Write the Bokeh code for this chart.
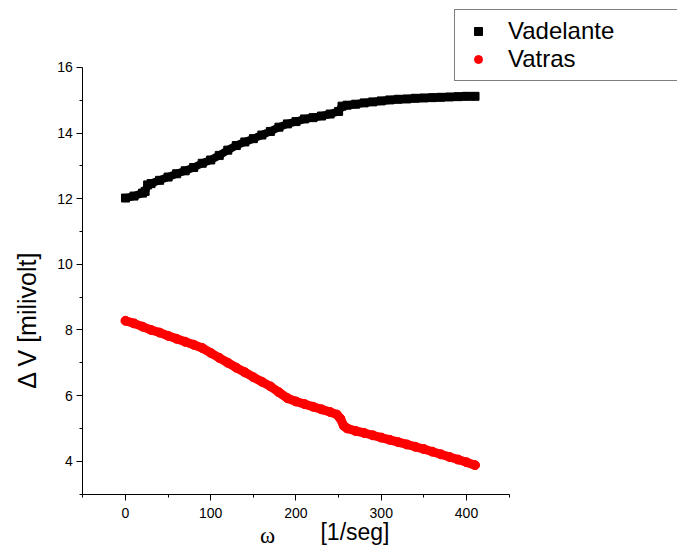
import math
from bokeh.plotting import figure
from bokeh.models import FixedTicker, Legend, LegendItem, Label, LinearAxis
from bokeh.embed import file_html
from bokeh.resources import INLINE

# ---- data ----
adelante_x = [0, 10, 20, 23, 26, 30, 40, 50, 60, 70, 80, 90, 100, 110, 120, 130, 140,
              150, 160, 170, 180, 190, 200, 210, 220, 230, 240, 250, 254, 260, 270,
              280, 290, 300, 310, 320, 330, 340, 350, 360, 370, 380, 390, 400, 410]
adelante_y = [12.02, 12.08, 12.17, 12.22, 12.42, 12.46, 12.56, 12.66, 12.76, 12.85,
              12.95, 13.08, 13.18, 13.32, 13.48, 13.62, 13.73, 13.83, 13.94, 14.05,
              14.18, 14.28, 14.35, 14.43, 14.47, 14.52, 14.58, 14.66, 14.82, 14.85,
              14.88, 14.92, 14.95, 14.98, 15.01, 15.03, 15.04, 15.06, 15.07, 15.08,
              15.09, 15.10, 15.11, 15.12, 15.12]

atras_x = [0, 10, 20, 30, 40, 50, 60, 70, 80, 90, 100, 110, 120, 130, 140, 150, 160,
           170, 180, 190, 200, 210, 220, 230, 240, 248, 252, 256, 260, 270, 280, 290,
           300, 310, 320, 330, 340, 350, 360, 370, 380, 390, 400, 410]
atras_y = [8.28, 8.20, 8.10, 8.00, 7.92, 7.82, 7.73, 7.64, 7.55, 7.45, 7.30, 7.15,
           7.00, 6.85, 6.71, 6.56, 6.42, 6.28, 6.10, 5.92, 5.82, 5.74, 5.66, 5.58,
           5.50, 5.42, 5.30, 5.08, 5.00, 4.92, 4.86, 4.79, 4.72, 4.65, 4.58, 4.51,
           4.44, 4.37, 4.29, 4.21, 4.13, 4.05, 3.97, 3.88]

x_major = [0, 100, 200, 300, 400]
x_minor = [-50, 50, 150, 250, 350, 450]
y_major = [4, 6, 8, 10, 12, 14, 16]
y_minor = [3, 5, 7, 9, 11, 13, 15]

FONT = "Liberation Sans"

p = figure(width=677, height=555, output_backend="svg", toolbar_location=None,
           x_range=(-146.6, 647.5), y_range=(1.126, 18.04),
           x_axis_location=None, y_axis_location=None, min_border=0)
p.outline_line_color = None
p.background_fill_color = "white"
p.border_fill_color = "white"
for g in p.grid:
    g.visible = False
p.xgrid.visible = False
p.ygrid.visible = False

xax = LinearAxis(fixed_location=3)
yax = LinearAxis(fixed_location=-50)
for ax, maj, mnr, bnds in ((xax, x_major, x_minor, (-50, 450)),
                           (yax, y_major, y_minor, (3, 16))):
    ax.ticker = FixedTicker(ticks=maj, minor_ticks=mnr)
    ax.bounds = bnds
    ax.axis_line_color = "black"
    ax.major_tick_line_color = "black"
    ax.minor_tick_line_color = "black"
    ax.major_tick_in = 0
    ax.major_tick_out = 6
    ax.minor_tick_in = 0
    ax.minor_tick_out = 3
    ax.major_label_text_font = FONT
    ax.major_label_text_font_size = "14px"
    ax.major_label_text_color = "black"
xax.major_label_standoff = 8
yax.major_label_standoff = 4
p.add_layout(xax, "below")
p.add_layout(yax, "left")

# data
p.line(adelante_x, adelante_y, line_color="black", line_width=8)
r1 = p.scatter(adelante_x, adelante_y, marker="square", size=8,
               fill_color="black", line_color="black")
p.line(atras_x, atras_y, line_color="red", line_width=9, line_cap="round")
r2 = p.scatter(atras_x, atras_y, marker="circle", size=9,
               fill_color="red", line_color="red")

legend = Legend(items=[LegendItem(label="Vadelante", renderers=[r1]),
                       LegendItem(label="Vatras", renderers=[r2])],
                location=(454, 474), orientation="vertical",
                label_text_font=FONT, label_text_font_size="24px",
                label_text_color="black", label_width=230,
                glyph_width=32, glyph_height=20, label_height=20,
                label_standoff=14, spacing=-5, padding=7, margin=0,
                border_line_color="black", border_line_width=1,
                background_fill_color="white", background_fill_alpha=1.0)
p.add_layout(legend, "center")

# axis titles
p.add_layout(Label(x=-115, y=8.41, text="\u0394 V  [milivolt]", angle=math.pi / 2,
                   text_font=FONT, text_font_size="25px", text_color="black",
                   text_align="center", text_baseline="middle"))
p.add_layout(Label(x=166.6, y=1.735, text="\u03c9", text_font="Liberation Serif",
                   text_font_size="23px", text_color="black",
                   text_align="center", text_baseline="alphabetic"))
p.add_layout(Label(x=228.7, y=1.83, text="[1/seg]", text_font=FONT,
                   text_font_size="23px", text_color="black",
                   text_align="left", text_baseline="alphabetic"))

open("out.html", "w").write(file_html(p, INLINE))
